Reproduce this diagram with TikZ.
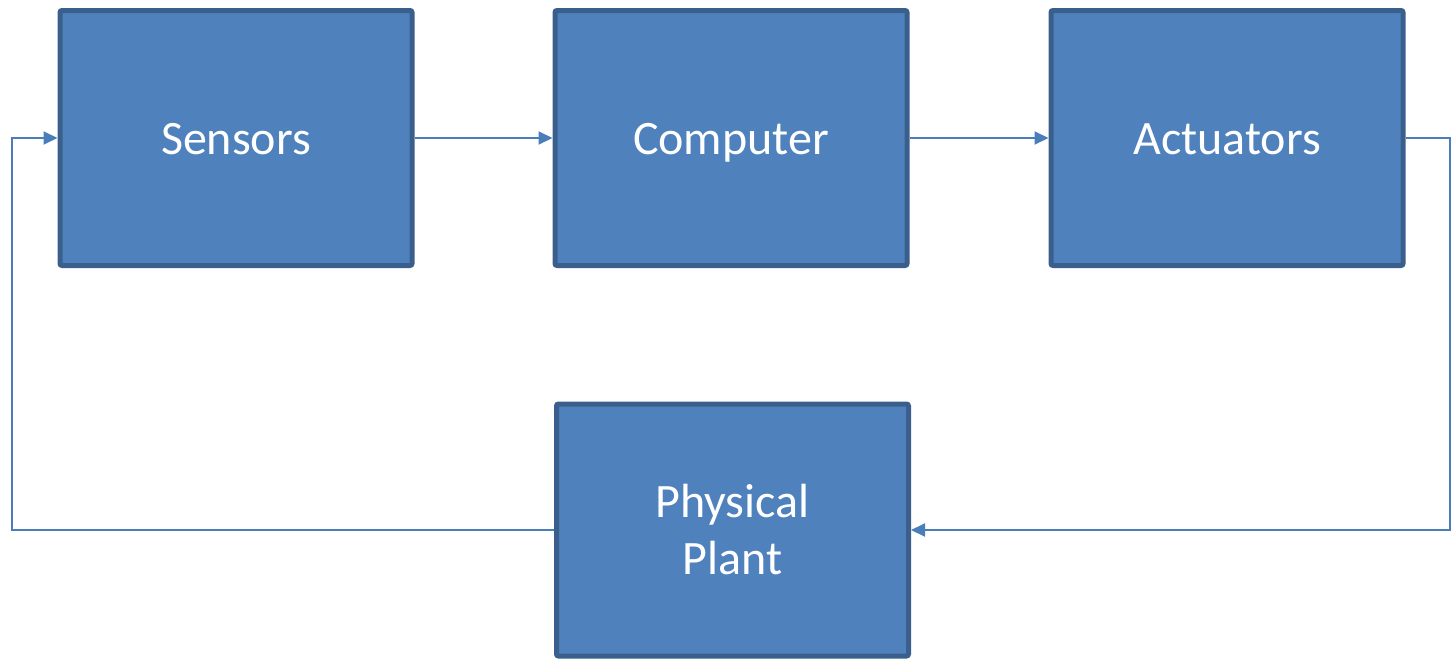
\documentclass[tikz,border=0pt]{standalone}
\usepackage{fontspec}
\setmainfont{Carlito}
\usetikzlibrary{arrows.meta}
\definecolor{boxfill}{HTML}{4F81BD}
\definecolor{boxedge}{HTML}{3A5F8D}
\definecolor{wire}{HTML}{4A7EBB}
\tikzset{
  block/.style={draw=boxedge, fill=boxfill, line width=5pt, rounded corners=2pt,
    minimum width=352pt, inner sep=0pt, text=white,
    font=\fontsize{48}{57}\selectfont, align=center},
  topblock/.style={block, minimum height=255pt, text height=38pt, text depth=6pt},
  link/.style={draw=wire, line width=2pt},
  arrowlink/.style={link, -{Triangle[length=14pt,width=13pt]}}
}
\begin{document}
\begin{tikzpicture}[x=1pt,y=-1pt]
  \useasboundingbox (0,0) rectangle (1451,659);
  % control loop blocks
  \node[topblock] (sen) at (236,138) {Sensors};
  \node[topblock] (com) at (731,138) {Computer};
  \node[topblock] (act) at (1227,138) {Actuators};
  \node[block, minimum height=252pt] (plant) at (732.5,530) {Physical\\Plant};
  % return path corners
  \coordinate (rc) at (1450,530);
  \coordinate (lc) at (12,530);
  % forward path
  \draw[arrowlink] (sen.east) -- (com.west);
  \draw[arrowlink] (com.east) -- (act.west);
  % feedback through the plant
  \draw[arrowlink] (act.east) -| (rc) -- (plant.east);
  \draw[arrowlink] (plant.west) -- (lc) |- (sen.west);
\end{tikzpicture}
\end{document}
